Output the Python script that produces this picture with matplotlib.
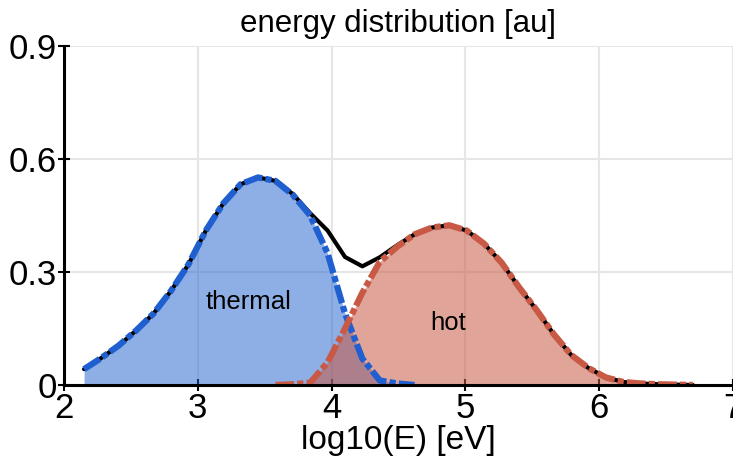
import numpy as np
import matplotlib
matplotlib.use("Agg")
import matplotlib.pyplot as plt

# log10(E) grid shared by both components
log_e = [2.15, 2.28, 2.41, 2.54, 2.67, 2.80, 2.93, 3.06, 3.19, 3.32, 3.45, 3.58,
         3.71, 3.84, 3.97, 4.10, 4.23, 4.36, 4.49, 4.62, 4.75, 4.88, 5.01, 5.14,
         5.27, 5.40, 5.53, 5.66, 5.79, 5.92, 6.05, 6.18, 6.31, 6.44, 6.57, 6.70]

nan = np.nan
thermal = [0.042, 0.072, 0.105, 0.145, 0.19, 0.25, 0.32, 0.41, 0.482, 0.533, 0.551, 0.542,
           0.505, 0.45, 0.35, 0.19, 0.07, 0.012, 0.004, 0.0, nan, nan, nan, nan,
           nan, nan, nan, nan, nan, nan, nan, nan, nan, nan, nan, nan]
hot = [nan, nan, nan, nan, nan, nan, nan, nan, nan, nan, nan, 0.0,
       0.002, 0.006, 0.06, 0.15, 0.245, 0.327, 0.367, 0.40, 0.418, 0.424, 0.41, 0.375,
       0.325, 0.26, 0.20, 0.135, 0.08, 0.045, 0.02, 0.008, 0.004, 0.002, 0.001, 0.0]

x = np.array(log_e)
th = np.array(thermal)
ho = np.array(hot)
total = np.nansum(np.vstack([th, ho]), axis=0)

plt.rcParams['font.family'] = ['Liberation Sans', 'DejaVu Sans']

fig = plt.figure(figsize=(7.33, 4.68), dpi=100)
ax = fig.add_axes([0.0873, 0.1774, 0.9127, 0.7243])

blue = '#1f5fcf'
red = '#c85a45'

ax.fill_between(x, 0, th, where=~np.isnan(th), color=blue, alpha=0.5, lw=0, zorder=1)
ax.fill_between(x, 0, ho, where=~np.isnan(ho), color=red, alpha=0.55, lw=0, zorder=1)

ax.plot(x, total, color='black', lw=3, solid_capstyle='round', solid_joinstyle='round', zorder=3)
ax.plot(x, th, color=blue, lw=4.5, dashes=(3, 0.5, 1, 0.5), dash_capstyle='butt', zorder=4)
ax.plot(x, ho, color=red, lw=4.5, dashes=(3, 0.5, 1, 0.5), dash_capstyle='butt', zorder=4)

ax.text(3.38, 0.22, 'thermal', fontsize=18.5, ha='center', va='center', zorder=5)
ax.text(4.87, 0.165, 'hot', fontsize=18.5, ha='center', va='center', zorder=5)

ax.set_xlim(2, 7)
ax.set_ylim(0, 0.9)
ax.set_xticks([2, 3, 4, 5, 6, 7])
ax.set_yticks([0, 0.3, 0.6, 0.9])
ax.set_yticklabels(['0', '0.3', '0.6', '0.9'])
ax.tick_params(direction='inout', length=8, width=1.5, labelsize=25, pad=1, colors='black')
ax.grid(True, color='#e6e6e6', lw=1.5)
ax.set_axisbelow(True)

for side in ['top', 'right']:
    ax.spines[side].set_visible(False)
for side in ['left', 'bottom']:
    ax.spines[side].set_linewidth(2.2)
    ax.spines[side].set_zorder(6)

ax.set_title('energy distribution [au]', fontsize=22.5, pad=10)
ax.set_xlabel('log10(E) [eV]', fontsize=24, labelpad=0)

fig.savefig('out.png', dpi=100)
